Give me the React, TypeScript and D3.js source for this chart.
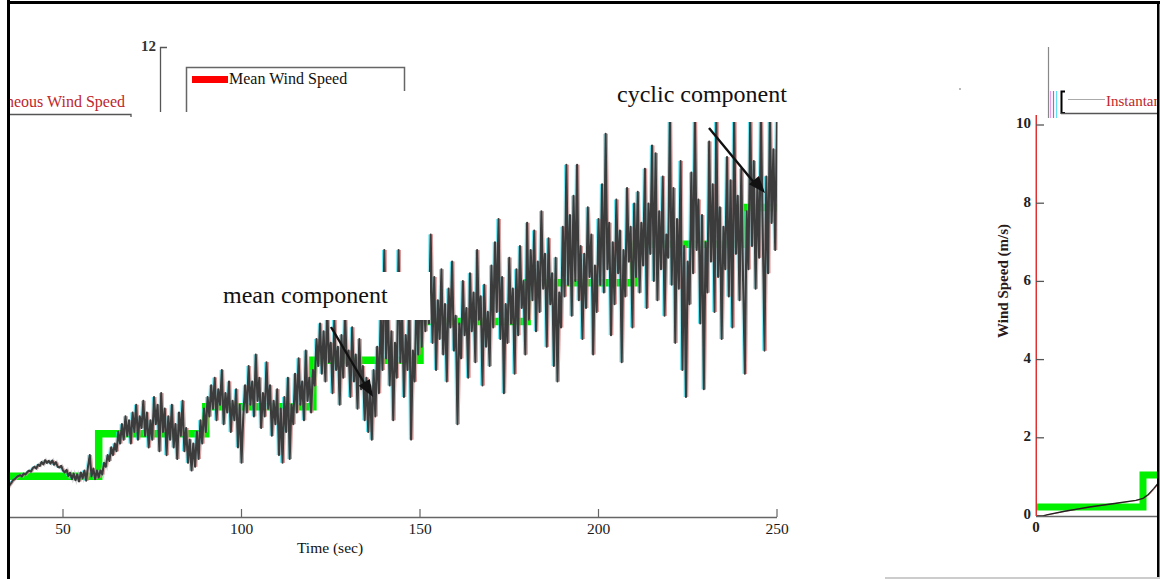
import React from 'react';
import * as d3 from 'd3';

// ---- data ----
const xTicks = [50, 100, 150, 200, 250];
const meanBreaks = [34.5, 60, 90, 120, 150, 180, 210, 240, 250];
const meanLevels = [1.05, 2.15, 2.85, 4.05, 5.05, 6.05, 7.05, 8.0, 8.0];
const sampleStart = 34.5;
const sampleStep = 0.5;
const windSpeed = [
  0.75, 0.82, 0.88, 0.95, 0.98, 1.03, 1.06, 1.08, 1.05, 1.12,
  1.1, 1.16, 1.2, 1.17, 1.26, 1.3, 1.25, 1.35, 1.32, 1.42,
  1.36, 1.47, 1.4, 1.45, 1.38, 1.46, 1.35, 1.42, 1.3, 1.28,
  1.32, 1.2, 1.15, 1.22, 1.06, 1.14, 0.98, 1.12, 0.95, 1.1,
  0.92, 1.15, 1.0, 1.2, 0.94, 1.3, 1.6, 1.05, 1.25, 0.98,
  1.2, 1.02,
  1.2, 1.1, 1.4, 1.3, 1.6, 1.45, 1.8, 1.6, 1.9, 1.7,
  2.2, 1.9, 2.4, 2.0, 2.6, 2.1, 2.5, 1.9, 2.7, 2.2,
  2.9, 2.0, 2.6, 2.3, 3.0, 2.1, 2.7, 1.8, 2.5, 2.0,
  3.1, 2.4, 2.9, 1.7, 3.2, 2.2, 2.8, 1.6, 2.6, 2.0,
  2.9, 1.8, 2.4, 1.5, 2.7, 2.1, 3.0, 1.7, 2.3, 1.4,
  2.0, 1.2, 1.9, 1.3, 2.2, 1.5, 2.5, 1.9, 2.8, 2.2,
  3.1, 2.6, 3.4, 2.8, 3.6, 2.5, 3.3, 2.9, 3.8, 2.4,
  3.2, 2.7, 3.5, 2.2, 3.0, 2.5, 3.3, 1.8, 2.9, 1.4,
  2.6, 3.4, 2.7, 3.9, 2.9, 3.5, 2.6, 4.2, 3.0, 3.6,
  2.3, 3.2, 2.6, 4.0, 2.8, 3.4, 2.1, 3.0, 2.4, 3.3,
  1.6, 2.8, 1.4, 3.1, 2.2, 3.6, 1.5, 2.9, 2.4, 3.7,
  2.7, 4.1, 2.9, 3.5, 2.5, 4.3, 3.0, 3.6, 2.7, 3.8,
  3.4, 4.6, 3.9, 5.0, 3.7, 4.8, 3.5, 5.4, 4.0, 4.5,
  3.2, 5.1, 3.8, 4.4, 2.9, 4.7, 3.6, 5.3, 3.9, 4.3,
  3.1, 4.9, 3.5, 4.2, 2.8, 4.6, 3.3, 3.9, 2.5, 3.6,
  2.2, 3.4, 2.0, 3.8, 2.6, 4.4, 3.2, 5.2, 3.8, 6.9,
  4.1, 5.5, 3.4, 4.8, 2.5, 4.5, 3.6, 6.9, 4.0, 5.2,
  3.1, 4.7, 3.8, 5.6, 2.0, 4.3, 3.5, 5.9, 4.2, 6.2,
  4.4, 6.0, 4.8, 6.2, 5.0, 7.3, 4.5, 6.2, 3.8, 5.6,
  4.6, 6.4, 4.2, 5.5, 3.5, 5.9, 4.9, 6.6, 4.3, 5.2,
  2.4, 5.0, 4.1, 6.1, 4.7, 5.4, 3.6, 6.3, 4.8, 5.8,
  4.0, 6.9, 5.1, 5.7, 3.4, 6.0, 4.4, 5.3, 3.9, 6.5,
  4.9, 7.1, 5.3, 7.7, 4.6, 6.2, 3.2, 5.5, 4.5, 6.7,
  5.0, 5.9, 3.7, 6.4, 4.7, 7.0, 5.4, 6.1, 4.2, 7.6,
  5.1, 6.9, 5.6, 7.4, 4.8, 6.6, 5.3, 7.9, 5.9, 6.8,
  4.4, 7.2, 5.5, 6.3, 3.9, 6.7, 3.5, 5.8, 4.9, 7.5,
  5.7, 9.1, 6.0, 7.8, 5.2, 8.3, 6.1, 9.1, 5.6, 7.0,
  4.6, 6.8, 5.4, 8.0, 6.2, 7.3, 4.2, 6.5, 5.3, 7.7,
  6.0, 8.6, 5.8, 9.9, 6.4, 7.6, 4.7, 7.1, 5.5, 8.2,
  6.3, 7.4, 4.0, 6.9, 5.7, 8.5, 6.6, 7.5, 4.9, 8.1,
  6.2, 8.4, 5.8, 7.6, 6.5, 9.0, 5.4, 8.1, 6.8, 9.6,
  6.1, 9.4, 5.6, 7.9, 6.4, 8.8, 5.2, 7.3, 6.7, 10.4,
  6.0, 8.5, 4.5, 7.7, 5.9, 9.2, 3.8, 7.0, 3.1, 6.6,
  5.5, 8.9, 6.3, 10.4, 6.9, 8.2, 5.0, 7.8, 3.3, 7.1,
  5.8, 9.7, 6.6, 8.6, 5.3, 10.4, 6.2, 8.0, 4.6, 7.5,
  6.4, 9.3, 5.7, 8.7, 4.9, 10.4, 6.8, 8.3, 5.6, 9.0,
  6.1, 3.7, 7.9, 6.4, 10.4, 7.0, 9.2, 5.9, 8.6, 6.7,
  10.4, 7.4, 4.3, 8.8, 6.3, 10.4, 7.6, 9.5, 6.9, 10.4,
];

const rightYTicks = [0, 2, 4, 6, 8, 10];
const rightMeanBreaks = [0, 30, 36];
const rightMeanLevels = [0.23, 1.05, 1.05];
const rightWindT = [0, 2, 3, 8, 15, 22, 28, 30, 31.5, 33, 34.5, 36];
const rightWindV = [0, 0, 0.03, 0.12, 0.23, 0.32, 0.4, 0.45, 0.55, 0.7, 0.87, 1.0];

const FONT = "'Liberation Serif', 'Times New Roman', serif";

function arrowHead(x1: number, y1: number, x2: number, y2: number, len = 17, half = 6.5) {
  const dx = x2 - x1, dy = y2 - y1;
  const L = Math.hypot(dx, dy);
  const ux = dx / L, uy = dy / L;
  const bx = x2 - ux * len, by = y2 - uy * len;
  return `M${x2},${y2}L${bx - uy * half},${by + ux * half}L${bx + uy * half},${by - ux * half}Z`;
}

export default function App() {
  const W = 1160, H = 579;
  const mainX = d3.scaleLinear().domain([50, 250]).range([63, 777]);
  const mainY = d3.scaleLinear().domain([0, 12]).range([517, 52.6]);
  const rightX = d3.scaleLinear().domain([0, 30]).range([1036, 1143]);
  const rightY = d3.scaleLinear().domain([0, 10]).range([516, 125]);

  const windPts: [number, number][] = windSpeed.map((v, i) => [sampleStart + i * sampleStep, v]);
  const windLine = d3.line<[number, number]>().x(d => mainX(d[0])).y(d => mainY(d[1]));
  const meanPts: [number, number][] = meanBreaks.map((t, i) => [t, meanLevels[i]]);
  const meanLine = d3.line<[number, number]>().x(d => mainX(d[0])).y(d => mainY(d[1])).curve(d3.curveStepAfter);

  const rMeanPts: [number, number][] = rightMeanBreaks.map((t, i) => [t, rightMeanLevels[i]]);
  const rMeanLine = d3.line<[number, number]>().x(d => rightX(d[0])).y(d => rightY(d[1])).curve(d3.curveStepAfter);
  const rWindPts: [number, number][] = rightWindT.map((t, i) => [t, rightWindV[i]]);
  const rWindLine = d3.line<[number, number]>().x(d => rightX(d[0])).y(d => rightY(d[1]));

  const windD = windLine(windPts) || '';

  return (
    <svg width={W} height={H} style={{ position: 'absolute', left: 0, top: 0, background: '#fff' }}
      fontFamily={FONT}>
      <defs>
        <clipPath id="mainClip"><rect x={10} y={122} width={767.5} height={400} /></clipPath>
        <clipPath id="leftClip"><rect x={10} y={0} width={400} height={579} /></clipPath>
        <clipPath id="rightClip"><rect x={1030} y={0} width={127} height={579} /></clipPath>
      </defs>
      <rect x={0} y={0} width={W} height={H} fill="#fff" />

      {/* main chart */}
      <g clipPath="url(#mainClip)">
        <path d={meanLine(meanPts) || ''} fill="none" stroke="#00f000" strokeWidth={7.5} />
        <path d={windD} fill="none" stroke="#ff3030" strokeWidth={1} opacity={0.55} transform="translate(1.7,0)" />
        <path d={windD} fill="none" stroke="#30e0f0" strokeWidth={1} opacity={0.55} transform="translate(-1.7,0)" />
        <path d={windD} fill="none" stroke="#bdbdbd" strokeWidth={2.6} opacity={0.6} transform="translate(0.9,0)" />
        <path d={windD} fill="none" stroke="#3c3c3c" strokeWidth={2.1} strokeLinejoin="round" />
      </g>

      {/* occluding white areas */}
      <rect x={10} y={116} width={372} height={204} fill="#fff" />
      <rect x={382} y={272} width={48} height={48} fill="#fff" />

      {/* main x axis */}
      <line x1={10} x2={mainX(250)} y1={517.5} y2={517.5} stroke="#666" strokeWidth={1.5} />
      {xTicks.map(t => (
        <g key={t}>
          <line x1={mainX(t)} x2={mainX(t)} y1={517} y2={509} stroke="#666" strokeWidth={1.2} />
          <text x={mainX(t)} y={530} textAnchor="middle" dominantBaseline="middle" fontSize={15.5} fill="#1a1a1a">{t}</text>
        </g>
      ))}
      <text x={330} y={549} textAnchor="middle" dominantBaseline="middle" fontSize={15.5} fill="#111">Time (sec)</text>

      {/* top-left overlay fragments */}
      <g clipPath="url(#leftClip)">
        <text x={125} y={107} textAnchor="end" fontSize={16} fill="#c0262b">Instantaneous Wind Speed</text>
        <path d="M10,114.5H131V117" fill="none" stroke="#555" strokeWidth={1.3} />
      </g>
      <text x={156} y={48} textAnchor="end" dominantBaseline="middle" fontSize={15} fontWeight="bold" fill="#333">12</text>
      <path d="M167,47.5H160.5V112" fill="none" stroke="#555" strokeWidth={1.3} />
      <path d="M186.5,112V67.5H404.5V91" fill="none" stroke="#666" strokeWidth={1.5} />
      <rect x={192} y={76} width={36} height={7} fill="#ff0000" />
      <text x={229} y={84} fontSize={16} fill="#111">Mean Wind Speed</text>

      {/* annotations */}
      <text x={223} y={303} fontSize={24} fill="#111">mean component</text>
      <line x1={331} y1={327} x2={366} y2={386} stroke="#111" strokeWidth={2.4} />
      <path d={arrowHead(331, 327, 373, 397)} fill="#111" />
      <text x={617} y={102} fontSize={24} fill="#111">cyclic component</text>
      <line x1={709} y1={128} x2={756} y2={185} stroke="#111" strokeWidth={2.4} />
      <path d={arrowHead(709, 128, 765, 193)} fill="#111" />

      {/* right chart */}
      <g clipPath="url(#rightClip)">
        <path d={rMeanLine(rMeanPts) || ''} fill="none" stroke="#00f000" strokeWidth={7} />
        <path d={rWindLine(rWindPts) || ''} fill="none" stroke="#e04040" strokeWidth={1} opacity={0.6} transform="translate(1,0)" />
        <path d={rWindLine(rWindPts) || ''} fill="none" stroke="#222" strokeWidth={1.4} />
        <line x1={1036} x2={1160} y1={516.5} y2={516.5} stroke="#666" strokeWidth={1.5} />
        <line x1={1048.5} x2={1048.5} y1={47} y2={118} stroke="#888" strokeWidth={1.2} />
        <line x1={1050.5} x2={1050.5} y1={91} y2={118} stroke="#e8a0e8" strokeWidth={1.2} />
        <line x1={1053.5} x2={1053.5} y1={91} y2={118} stroke="#b060d0" strokeWidth={1.2} />
        <line x1={1056.5} x2={1056.5} y1={91} y2={118} stroke="#60e0f0" strokeWidth={1.2} />
        <path d="M1065,91.5H1061.5V113H1065" fill="none" stroke="#000" strokeWidth={2} />
        <line x1={1061} x2={1160} y1={113.5} y2={113.5} stroke="#555" strokeWidth={1.3} />
        <line x1={1068} x2={1105} y1={99.5} y2={99.5} stroke="#aaa" strokeWidth={1.2} />
        <text x={1106} y={106} fontSize={15} fill="#c0262b">Instantaneous Wind Speed</text>
      </g>
      <line x1={1035.5} x2={1035.5} y1={115} y2={516} stroke="#30d0e0" strokeWidth={1} opacity={0.8} />
      <line x1={1036.5} x2={1036.5} y1={115} y2={516} stroke="#e03030" strokeWidth={1} />
      {rightYTicks.map(v => (
        <g key={v}>
          {v > 0 && <line x1={1036} x2={1044} y1={rightY(v)} y2={rightY(v)} stroke="#555" strokeWidth={1.3} />}
          <text x={1031} y={rightY(v)} textAnchor="end" dominantBaseline="middle" fontSize={15} fontWeight="bold" fill="#222">{v}</text>
        </g>
      ))}
      <text x={1036} y={529} textAnchor="middle" dominantBaseline="middle" fontSize={15} fontWeight="bold" fill="#222">0</text>
      <text transform="translate(1005,281) rotate(-90)" textAnchor="middle" dominantBaseline="middle" fontSize={15} fontWeight="bold" fill="#2a1a1a">Wind Speed (m/s)</text>
      <circle cx={960} cy={89} r={0.9} fill="#999" />

      {/* frame */}
      <rect x={7} y={0} width={3} height={579} fill="#000" />
      <rect x={7} y={1} width={1153} height={3} fill="#000" />
      <rect x={1157} y={1} width={2.5} height={576} fill="#000" />
      <line x1={885} x2={1160} y1={578} y2={578} stroke="#999" strokeWidth={1.2} />
    </svg>
  );
}
